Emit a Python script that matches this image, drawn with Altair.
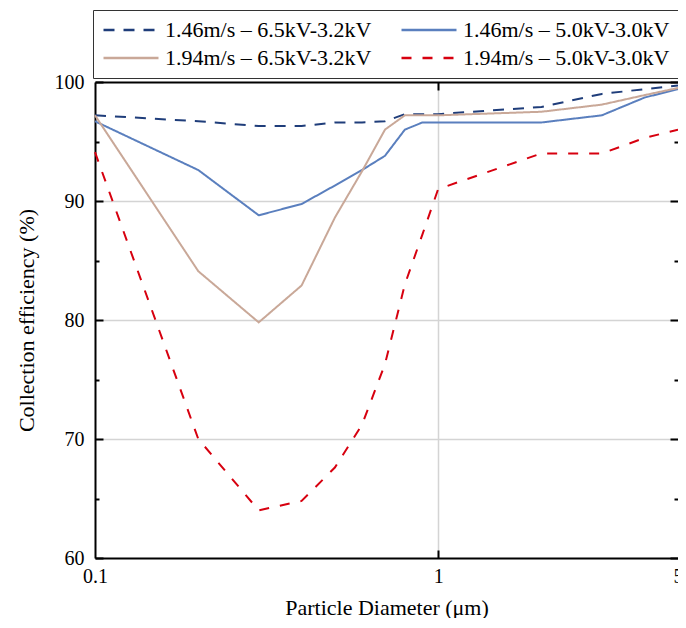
import altair as alt
import pandas as pd

# ---- data ----
diameter = [0.1, 0.2, 0.3, 0.4, 0.5, 0.6, 0.7, 0.8, 0.9, 1, 2, 3, 4, 5]

series_names = [
    "1.46m/s – 6.5kV-3.2kV",
    "1.46m/s – 5.0kV-3.0kV",
    "1.94m/s – 6.5kV-3.2kV",
    "1.94m/s – 5.0kV-3.0kV",
]
eff_146_65 = [97.2, 96.7, 96.3, 96.3, 96.6, 96.6, 96.7, 97.3, 97.3, 97.3, 97.9, 99.0, 99.4, 99.7]
eff_146_50 = [96.7, 92.6, 88.8, 89.75, 91.3, 92.6, 93.8, 96.0, 96.6, 96.6, 96.6, 97.2, 98.7, 99.4]
eff_194_65 = [97.2, 84.1, 79.8, 82.9, 88.6, 92.5, 96.0, 97.2, 97.2, 97.2, 97.5, 98.1, 98.9, 99.5]
eff_194_50 = [94.1, 70.0, 64.0, 64.8, 67.6, 71.2, 76.3, 83.0, 87.2, 91.0, 94.0, 94.0, 95.3, 96.0]

series_colors = ["#1f3d7a", "#5a7fbe", "#c9a898", "#d7000f"]
series_dashes = [[11, 9], [1, 0], [1, 0], [10, 11]]

x_tick_values = [0.1, 1, 5]
y_tick_values = [60, 70, 80, 90, 100]
y_minor_values = [65, 75, 85, 95]

rows = []
for name, vals in zip(series_names, [eff_146_65, eff_146_50, eff_194_65, eff_194_50]):
    for d, e in zip(diameter, vals):
        rows.append({"d": d, "e": e, "series": name})
df = pd.DataFrame(rows)

W, H = 583, 476
FONT = "Liberation Serif"

xscale = alt.Scale(type="log", domain=[0.1, 5], nice=False)
yscale = alt.Scale(domain=[60, 100], nice=False, zero=False)

legend = alt.Legend(
    title=None, orient="none", legendX=-2, legendY=-72, columns=2, direction="horizontal",
    symbolType="stroke", symbolSize=3025, symbolStrokeWidth=2.5, clipHeight=22,
    labelFontSize=22, labelFont=FONT, labelColor="black", labelOffset=5,
    labelLimit=400, columnPadding=28, rowPadding=6, padding=9,
    strokeColor="#333333", fillColor="white",
)

base = alt.Chart(df)

lines = base.mark_line(strokeWidth=2).encode(
    x=alt.X("d:Q", scale=xscale, axis=alt.Axis(
        orient="bottom", title="Particle Diameter (μm)", values=x_tick_values, format="~g",
        ticks=False, tickSize=0, domain=True, domainColor="black", domainWidth=2,
        grid=True, gridColor="#d4d4d4", gridWidth=1.5,
        gridOpacity={"condition": {"test": "datum.value == 1", "value": 1}, "value": 0},
        labelPadding=8, titlePadding=11, labelFontSize=20, titleFontSize=22,
        labelFlush=False)),
    y=alt.Y("e:Q", scale=yscale, axis=alt.Axis(
        orient="left", title="Collection efficiency (%)", values=y_tick_values,
        ticks=False, tickSize=0, domain=True, domainColor="black", domainWidth=2,
        grid=True, gridColor="#d4d4d4", gridWidth=1.5,
        gridOpacity={"condition": {"test": "datum.value > 60 && datum.value < 100", "value": 1}, "value": 0},
        labelPadding=11, titlePadding=16, labelFontSize=20, titleFontSize=22)),
    color=alt.Color("series:N", scale=alt.Scale(domain=series_names, range=series_colors), legend=legend),
    strokeDash=alt.StrokeDash("series:N", scale=alt.Scale(domain=series_names, range=series_dashes), legend=legend),
    order=alt.Order("d:Q"),
)

def tick_axis(orient, offset, values, size, domain=False):
    return alt.Axis(orient=orient, offset=offset, values=values, labels=False, title=None,
                    grid=False, domain=domain, domainColor="black", domainWidth=2,
                    ticks=True, tickSize=size, tickWidth=2, tickColor="black")

ghost = base.mark_point(opacity=0, size=1)

l2 = ghost.encode(
    x=alt.X("d:Q", scale=xscale, axis=tick_axis("top", -H, [1], 8)),
    y=alt.Y("e:Q", scale=yscale, axis=tick_axis("right", -W, y_tick_values, 8)),
)
l3 = ghost.encode(
    x=alt.X("d:Q", scale=xscale, axis=tick_axis("bottom", -H, [1], 8, domain=True)),
    y=alt.Y("e:Q", scale=yscale, axis=tick_axis("right", -W, y_minor_values, 4)),
)
l4 = ghost.encode(
    x=alt.X("d:Q", scale=xscale, axis=None),
    y=alt.Y("e:Q", scale=yscale, axis=tick_axis("left", -W, y_tick_values, 8)),
)
l5 = ghost.encode(
    x=alt.X("d:Q", scale=xscale, axis=None),
    y=alt.Y("e:Q", scale=yscale, axis=tick_axis("left", -W, y_minor_values, 4)),
)

chart = alt.layer(lines, l2, l3, l4, l5).resolve_axis(
    x="independent", y="independent"
).properties(
    width=W, height=H,
    autosize=alt.AutoSizeParams(type="none"),
    padding={"left": 87, "top": 74, "right": 0, "bottom": 60},
    background="white",
).configure_view(
    stroke=None
).configure_axis(
    labelFont=FONT, titleFont=FONT, labelColor="black", titleColor="black",
    titleFontWeight="normal",
)

chart.save("out.html", embed_options={"renderer": "svg", "actions": False})
